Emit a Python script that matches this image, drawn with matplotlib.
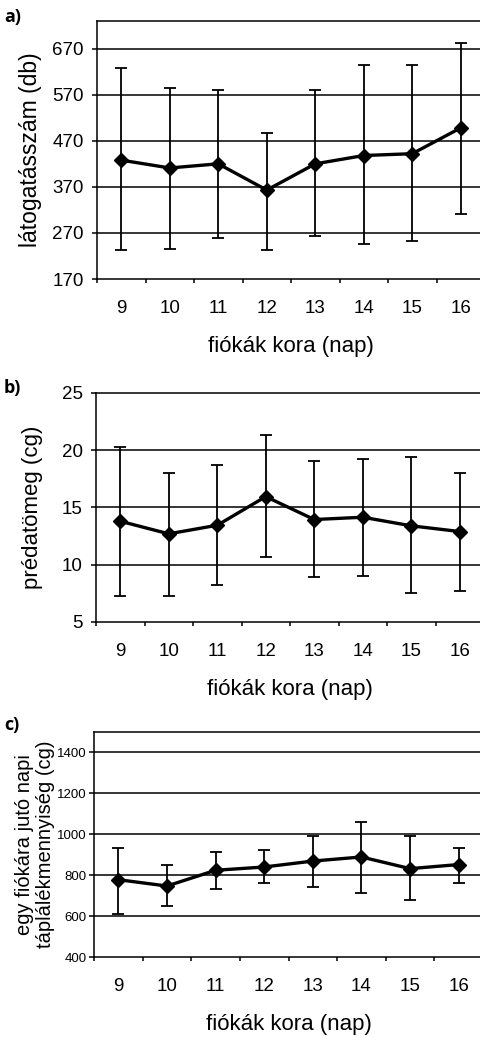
import matplotlib
matplotlib.use("Agg")
import matplotlib.pyplot as plt
import numpy as np

plt.rcParams['font.family'] = ['Liberation Sans', 'DejaVu Sans']

days = ['9', '10', '11', '12', '13', '14', '15', '16']

# a) látogatásszám (db)
visits = [428, 411, 420, 363, 420, 438, 442, 498]
visits_hi = [627, 585, 580, 487, 580, 635, 635, 682]
visits_lo = [233, 236, 259, 233, 263, 247, 252, 311]

# b) prédatömeg (cg)
prey = [13.8, 12.7, 13.45, 15.95, 13.95, 14.15, 13.4, 12.9]
prey_hi = [20.3, 18.0, 18.7, 21.3, 19.05, 19.2, 19.4, 18.0]
prey_lo = [7.3, 7.3, 8.2, 10.65, 8.9, 9.05, 7.5, 7.7]

# c) egy fiókára jutó napi táplálékmennyiség (cg)
food = [778, 747, 824, 840, 869, 889, 832, 852]
food_hi = [933, 852, 913, 922, 990, 1060, 990, 933]
food_lo = [612, 649, 731, 760, 742, 715, 677, 762]

W, H = 480, 1037
fig = plt.figure(figsize=(W / 100, H / 100), dpi=100)


def px_axes(left, top, right, bottom):
    return fig.add_axes([left / W, 1 - bottom / H, (right - left) / W, (bottom - top) / H])


def draw(ax, vals, hi, lo, ylim, yticks, ylabel, tick_fs, ylabel_fs, tick_font=None, ypad=6,
         ylabel_ls=1.0):
    x = np.arange(len(days))
    vals = np.array(vals)
    err = [vals - np.array(lo), np.array(hi) - vals]
    ax.errorbar(x, vals, yerr=err, color='black', lw=2.4, marker='D', ms=7.5,
                ecolor='black', elinewidth=1.3, capsize=4, capthick=1.3, zorder=3)
    ax.set_xlim(-0.5, len(days) - 0.5)
    ax.set_ylim(*ylim)
    ax.set_yticks(yticks)
    for t in yticks:
        if ylim[0] < t < ylim[1]:
            ax.axhline(t, color='black', lw=1.1, zorder=1)
    ax.set_xticks(x)
    ax.set_xticklabels(days)
    ax.set_xticks(np.arange(len(days) + 1) - 0.5, minor=True)
    ax.tick_params(axis='x', which='major', length=0, pad=15, labelsize=13.5)
    ax.tick_params(axis='x', which='minor', length=3, width=1.1, direction='out')
    ax.tick_params(axis='y', length=3.5, width=1.1, pad=ypad, labelsize=tick_fs)
    if tick_font:
        for lab in ax.get_yticklabels():
            lab.set_family(tick_font)
    for s in ax.spines.values():
        s.set_linewidth(1.1)
    ax.spines['right'].set_visible(False)
    ax.set_ylabel(ylabel, fontsize=ylabel_fs, linespacing=ylabel_ls)
    ax.set_xlabel('fiókák kora (nap)', fontsize=16, labelpad=14)


ax_a = px_axes(97, 21, 485, 279)
draw(ax_a, visits, visits_hi, visits_lo, (170, 730), [170, 270, 370, 470, 570, 670],
     'látogatásszám (db)', 13.5, 16.5)
ax_a.yaxis.set_label_coords(-0.142, 0.5)

ax_b = px_axes(96, 393, 484, 622)
draw(ax_b, prey, prey_hi, prey_lo, (5, 25), [5, 10, 15, 20, 25],
     'prédatömeg (cg)', 13.5, 16)
ax_b.yaxis.set_label_coords(-0.137, 0.5)

ax_c = px_axes(94, 732, 483, 957)
draw(ax_c, food, food_hi, food_lo, (400, 1500), [400, 600, 800, 1000, 1200, 1400],
     'egy fiókára jutó napi\ntáplálékmennyiség (cg)', 9.5, 14.5,
     tick_font=['Liberation Sans Narrow', 'Liberation Sans'], ypad=2, ylabel_ls=1.15)
ax_c.yaxis.set_label_coords(-0.10, 0.5)

for lab, y in [('a)', 17), ('b)', 388), ('c)', 725)]:
    fig.text(4 / W, 1 - y / H, lab, fontsize=13, fontweight='bold',
             family=['Open Sans', 'DejaVu Sans'], ha='left', va='center')

fig.savefig('out.png', dpi=100)
